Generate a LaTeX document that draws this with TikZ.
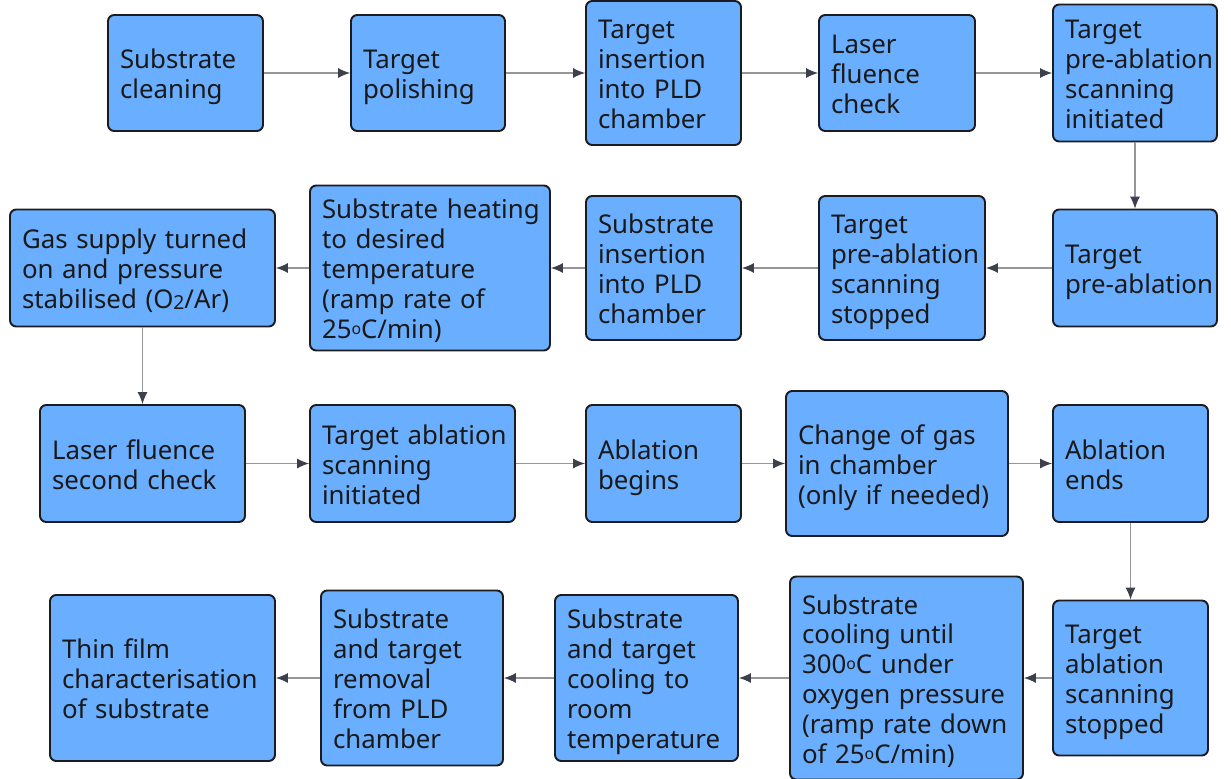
\documentclass[tikz,border=0pt]{standalone}
\usepackage{fontspec}
\setmainfont{Noto Sans}
\usetikzlibrary{arrows.meta}
\definecolor{stagefill}{RGB}{106,174,255}
\definecolor{stageline}{RGB}{28,28,30}
\definecolor{flowline}{RGB}{150,150,152}
\definecolor{flowtip}{RGB}{60,64,76}
\newcommand\dego{\raisebox{0.3ex}{\fontsize{9}{9}\selectfont o}}
\newcommand\gastwo{\raisebox{-0.05ex}{\fontsize{11}{11}\selectfont 2}}
\tikzset{
    stage/.style = {
        draw           = stageline,
        fill           = stagefill,
        line width     = 1.1pt,
        rounded corners = 3.5pt,
        align          = left,
        inner xsep     = 0.24cm,
        inner ysep     = 0pt,
        text           = black!90,
        font           = \fontsize{14.7}{17}\selectfont,
        execute at begin node = {\hyphenpenalty=10000\exhyphenpenalty=10000\rule{0pt}{16.2pt}},
        execute at end node   = {\rule[-4pt]{0pt}{4pt}},
    },
    flow/.style = {
        draw       = flowline,
        line width = 0.6pt,
        -{Latex[length=0.24cm, width=0.2cm, color=flowtip]},
    },
}

\begin{document}
\begin{tikzpicture}[x=0.02cm, y=-0.02cm]
        \useasboundingbox (0,0) rectangle (1231,778);

        % first row, left to right
        \node (clean)   [stage, text width=2.62cm, minimum height=2.32cm] at (185.5,73) {Substrate\\cleaning};
        \node (polish)  [stage, text width=2.60cm, minimum height=2.32cm] at (428,73)   {Target\\polishing};
        \node (tinsert) [stage, text width=2.62cm, minimum height=2.88cm] at (663.5,73) {Target\\insertion\\into~PLD\\chamber};
        \node (fluence) [stage, text width=2.64cm, minimum height=2.32cm] at (897,73)   {Laser\\fluence\\check};
        \node (prescan) [stage, text width=2.80cm, minimum height=2.74cm] at (1135,73)  {Target\\pre-ablation\\scanning\\initiated};

        % second row, right to left
        \node (preabl)  [stage, text width=2.80cm, minimum height=2.34cm] at (1135,268) {Target\\pre-ablation};
        \node (prestop) [stage, text width=2.84cm, minimum height=2.88cm] at (902,268)  {Target\\pre-ablation\\scanning\\stopped};
        \node (sinsert) [stage, text width=2.62cm, minimum height=2.88cm] at (663.5,268) {Substrate\\insertion\\into~PLD\\chamber};
        \node (heat)    [stage, text width=4.32cm, minimum height=3.30cm] at (430,268)  {Substrate~heating\\to~desired\\temperature\\(ramp~rate~of\\25\dego C/min)};
        \node (gas)     [stage, text width=4.82cm, minimum height=2.34cm] at (142.5,268) {Gas~supply~turned\\on~and~pressure\\stabilised~(O\gastwo/Ar)};

        % third row, left to right
        \node (fluence2) [stage, text width=3.62cm, minimum height=2.34cm] at (142.5,463.5) {Laser~fluence\\second~check};
        \node (ablscan)  [stage, text width=3.62cm, minimum height=2.34cm] at (412.5,463.5) {Target~ablation\\scanning\\initiated};
        \node (ablbegin) [stage, text width=2.62cm, minimum height=2.34cm] at (663.5,463.5) {Ablation\\begins};
        \node (gaschange) [stage, text width=3.96cm, minimum height=2.90cm] at (897,463.5) {Change~of~gas\\in~chamber\\(only~if~needed)};
        \node (ablend)   [stage, text width=2.62cm, minimum height=2.34cm] at (1130.5,463.5) {Ablation\\ends};

        % fourth row, right to left
        \node (ablstop) [stage, text width=2.62cm, minimum height=3.10cm] at (1130.5,678) {Target\\ablation\\scanning\\stopped};
        \node (cool300) [stage, text width=4.18cm, minimum height=4.06cm] at (906.5,678) {Substrate\\cooling~until\\300\dego C~under\\oxygen~pressure\\(ramp~rate~down\\of~25\dego C/min)};
        \node (coolrt)  [stage, text width=3.18cm, minimum height=3.32cm] at (646.5,678) {Substrate\\and~target\\cooling~to\\room\\temperature};
        \node (removal) [stage, text width=3.16cm, minimum height=3.50cm] at (412,678)   {Substrate\\and~target\\removal\\from~PLD\\chamber};
        \node (charac)  [stage, text width=4.02cm, minimum height=3.32cm] at (162.5,678) {Thin~film\\characterisation\\of~substrate};

        \draw [flow] (clean) -- (polish);
        \draw [flow] (polish) -- (tinsert);
        \draw [flow] (tinsert) -- (fluence);
        \draw [flow] (fluence) -- (prescan);
        \draw [flow] (prescan) -- (preabl);
        \draw [flow] (preabl) -- (prestop);
        \draw [flow] (prestop) -- (sinsert);
        \draw [flow] (sinsert) -- (heat);
        \draw [flow] (heat) -- (gas);
        \draw [flow] (gas) -- (fluence2);
        \draw [flow] (fluence2) -- (ablscan);
        \draw [flow] (ablscan) -- (ablbegin);
        \draw [flow] (ablbegin) -- (gaschange);
        \draw [flow] (gaschange) -- (ablend);
        \draw [flow] (ablend) -- (ablstop);
        \draw [flow] (ablstop) -- (cool300);
        \draw [flow] (cool300) -- (coolrt);
        \draw [flow] (coolrt) -- (removal);
        \draw [flow] (removal) -- (charac);

    \end{tikzpicture}
\end{document}
